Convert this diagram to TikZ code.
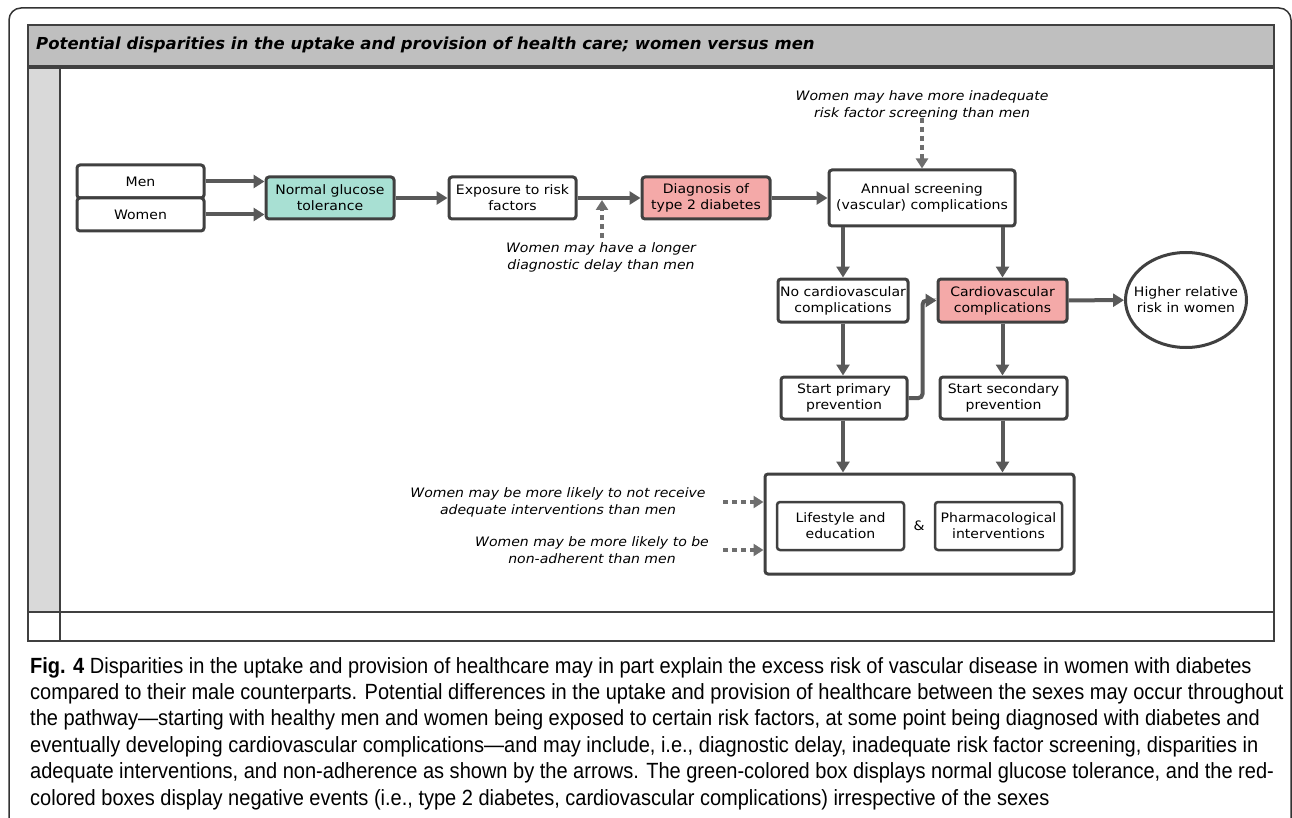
\documentclass[tikz,border=0pt]{standalone}
\usepackage{fontspec}
\setmainfont[FakeStretch=1.08]{DejaVu Sans}
\newfontfamily\titlefont{DejaVu Sans}
\newfontfamily\capfont[FakeStretch=0.91]{Liberation Sans}
\usetikzlibrary{arrows.meta,shapes.geometric,calc}

\definecolor{edge}{HTML}{404040}
\definecolor{flow}{HTML}{595959}
\definecolor{hint}{HTML}{6E6E6E}
\definecolor{headgray}{HTML}{BFBFBF}
\definecolor{sidegray}{HTML}{D9D9D9}
\definecolor{ngtgreen}{HTML}{A8E0D3}
\definecolor{riskred}{HTML}{F4A9A8}

\begin{document}
\begin{tikzpicture}[x=1pt,y=-1pt,
	box/.style={draw=edge, line width=3pt, rounded corners=3pt, fill=white, align=center, inner sep=0pt, font=\fontsize{13}{16}\selectfont},
	flowarrow/.style={draw=flow, line width=4pt, -{Triangle[length=11pt,width=13pt]}},
	hintarrow/.style={draw=hint, line width=4pt, dash pattern=on 5pt off 4pt, -{Triangle[length=10pt,width=12pt]}},
	note/.style={align=center, inner sep=0pt, font=\fontsize{13}{17}\selectfont\itshape}]
	
	\useasboundingbox (0,0) rectangle (1292,818);
	
	% frame and table
	\draw[black!80, line width=1.5pt, rounded corners=12pt] (9,830) -- (9,8) -- (1291,8) -- (1291,830);
	\fill[headgray] (28,25) rectangle (1274,67);
	\fill[sidegray] (28,67) rectangle (60,612);
	\draw[edge, line width=2pt] (28,25) rectangle (1274,641);
	\draw[edge, line width=3.5pt] (28,67) -- (1274,67);
	\draw[edge, line width=2pt] (60,67) -- (60,641);
	\draw[edge, line width=2pt] (28,612) -- (1274,612);
	\node[anchor=west, inner sep=0pt, font=\titlefont\fontsize{16.5}{19}\selectfont\bfseries\itshape] (title) at (36,45) {Potential disparities in the uptake and provision of health care; women versus men};
	
	% pathway
	\node[box, minimum width=127pt, minimum height=33pt] (men) at (140.5,181.5) {Men};
	\node[box, minimum width=127pt, minimum height=33pt] (women) at (140.5,214.5) {Women};
	\node[box, fill=ngtgreen, minimum width=128pt, minimum height=42pt] (ngt) at (330,198) {Normal glucose\\tolerance};
	\node[box, minimum width=127pt, minimum height=42pt] (expo) at (512.5,198) {Exposure to risk\\factors};
	\node[box, fill=riskred, minimum width=128pt, minimum height=42pt] (diag) at (706,198) {Diagnosis of\\type 2 diabetes};
	\node[box, minimum width=186pt, minimum height=56pt] (annual) at (922,198) {Annual screening\\(vascular) complications};
	\node[box, minimum width=130pt, minimum height=43pt] (nocvd) at (843,300.5) {No cardiovascular\\complications};
	\node[box, fill=riskred, minimum width=129pt, minimum height=43pt] (cvd) at (1002.5,300.5) {Cardiovascular\\complications};
	\node[box, ellipse, rounded corners=0pt, inner xsep=-16pt, inner ysep=-4pt, minimum width=121pt, minimum height=95pt] (higher) at (1186,300) {Higher relative\\risk in women};
	\node[box, minimum width=126pt, minimum height=42pt] (prim) at (844,398) {Start primary\\prevention};
	\node[box, minimum width=127pt, minimum height=42pt] (sec) at (1003.5,398) {Start secondary\\prevention};
	\node[box, minimum width=309pt, minimum height=100pt] (treat) at (919.5,524) {};
	\node[box, line width=2.5pt, minimum width=127pt, minimum height=48pt] (life) at (840.5,526) {Lifestyle and\\education};
	\node[box, line width=2.5pt, minimum width=127pt, minimum height=48pt] (pharm) at (998.5,526) {Pharmacological\\interventions};
	\node[inner sep=0pt, font=\fontsize{13}{16}\selectfont] (and) at (919,526) {\&};
	
	\draw[flowarrow] (men.east) -- (men.east -| ngt.west);
	\draw[flowarrow] (women.east) -- (women.east -| ngt.west);
	\draw[flowarrow] (ngt) -- (expo);
	\draw[flowarrow] (expo) -- (diag);
	\draw[flowarrow] (diag) -- (annual);
	\draw[flowarrow] (annual.south -| nocvd) -- (nocvd.north);
	\draw[flowarrow] (annual.south -| cvd) -- (cvd.north);
	\draw[flowarrow] (nocvd.south) -- (nocvd.south |- prim.north);
	\draw[flowarrow] (cvd.south) -- (cvd.south |- sec.north);
	\draw[flowarrow] (cvd) -- (higher);
	\draw[flowarrow, rounded corners=4pt] (prim.east) -- ++(14,0) |- (cvd.west);
	\draw[flowarrow] (nocvd.south |- prim.south) -- (nocvd.south |- treat.north);
	\draw[flowarrow] (cvd.south |- sec.south) -- (cvd.south |- treat.north);
	
	% where women may differ
	\node[note] (screennote) at (922,105) {Women may have more inadequate\\risk factor screening than men};
	\node[note] (delaynote) at (601,257) {Women may have a longer\\diagnostic delay than men};
	\node[note] (intvnote) at (558,502) {Women may be more likely to not receive\\adequate interventions than men};
	\node[note] (adhnote) at (592,550) {Women may be more likely to be\\non-adherent than men};
	\coordinate (screenfrom) at (922,118);
	\coordinate (delayfrom) at (602,238);
	\coordinate (delayto) at (602,200);
	\coordinate (intvfrom) at (723,502);
	\coordinate (adhfrom) at (723,550);
	\draw[hintarrow] (screenfrom) -- (annual.north);
	\draw[hintarrow] (delayfrom) -- (delayto);
	\draw[hintarrow] (intvfrom) -- (intvfrom -| treat.west);
	\draw[hintarrow] (adhfrom) -- (adhfrom -| treat.west);
	
	% caption
	\node[anchor=north west, align=left, inner sep=0pt, font=\capfont\fontsize{22}{26.4}\selectfont] (caption) at (30,657) {\textbf{Fig. 4} Disparities in the uptake and provision of healthcare may in part explain the excess risk of vascular disease in women with diabetes\\
	compared to their male counterparts. Potential differences in the uptake and provision of healthcare between the sexes may occur throughout\\
	the pathway—starting with healthy men and women being exposed to certain risk factors, at some point being diagnosed with diabetes and\\
	eventually developing cardiovascular complications—and may include, i.e., diagnostic delay, inadequate risk factor screening, disparities in\\
	adequate interventions, and non-adherence as shown by the arrows. The green-colored box displays normal glucose tolerance, and the red-\\
	colored boxes display negative events (i.e., type 2 diabetes, cardiovascular complications) irrespective of the sexes};
	
\end{tikzpicture}
\end{document}
